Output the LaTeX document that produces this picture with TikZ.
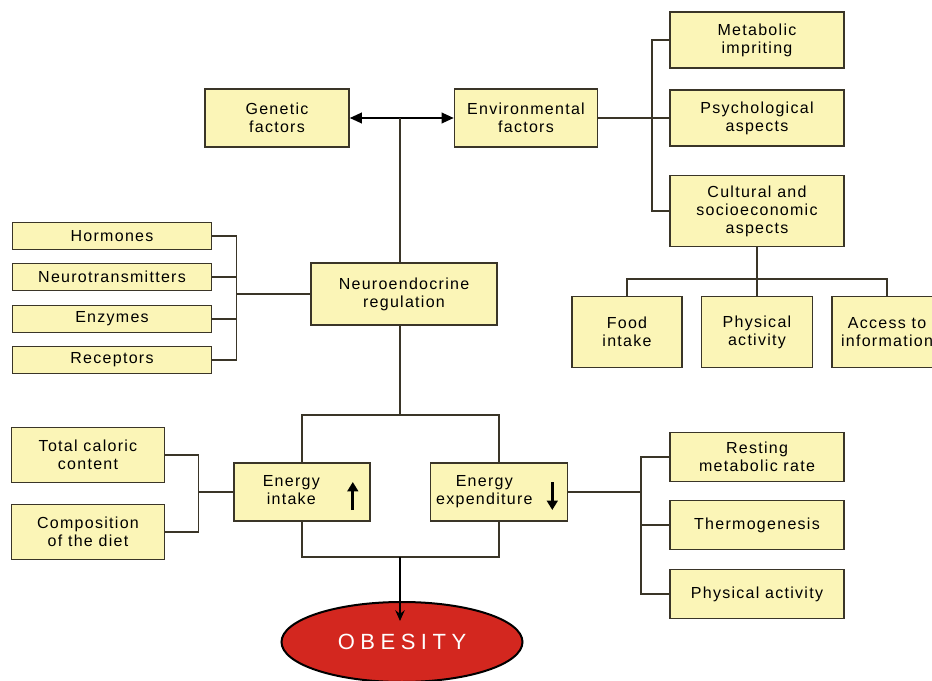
\documentclass[tikz,border=0pt]{standalone}
\usepackage{fontspec}
\setmainfont{Liberation Sans}[LetterSpace=8]
\newfontfamily\obfont{Liberation Sans}[LetterSpace=25]
\usetikzlibrary{arrows.meta,shapes.geometric}
\definecolor{caja}{HTML}{FBF5B7}
\definecolor{borde}{HTML}{3A3528}
\definecolor{rojo}{HTML}{D3271F}

\begin{document}
\begin{tikzpicture}[x=0.75pt,y=-0.75pt,line width=1.1pt,color=borde,
  b/.style={draw=borde,fill=caja,line width=1.2pt,align=center,inner sep=1pt,text=black,font=\fontsize{12}{13.5}\selectfont},
  sz/.style 2 args={minimum width=#1*0.75pt,minimum height=#2*0.75pt},
  big/.style={line width=2.2pt,color=black,-{Triangle[length=7pt,width=8pt]}}]
\clip (0,0) rectangle (932,681);
% top row
\node[b,sz={144}{58}] (gen) at (277,118) {Genetic\\factors};
\node[b,sz={143}{58}] (env) at (526,118) {Environmental\\factors};
\node[b,sz={174}{56}] (meta) at (757,40) {Metabolic\\impriting};
\node[b,sz={174}{56}] (psy) at (757,118) {Psychological\\aspects};
\node[b,sz={174}{71}] (cult) at (757,211) {Cultural and\\socioeconomic\\aspects};
\node[b,sz={110}{71}] (food) at (627,332) {Food\\intake};
\node[b,sz={111}{71}] (pact) at (757,332) {Physical\\activity};
\node[b,sz={110}{71}] (acc) at (887,332) {Access to\\information};
% neuroendocrine
\node[b,sz={186}{62}] (neuro) at (404,294) {Neuroendocrine\\regulation};
\node[b,sz={199}{27}] (horm) at (112,236) {Hormones};
\node[b,sz={199}{27}] (ntr) at (112,277) {Neurotransmitters};
\node[b,sz={199}{27}] (enz) at (112,319) {Enzymes};
\node[b,sz={199}{27}] (rec) at (112,360) {Receptors};
% energy balance
\node[b,sz={153}{55}] (tcc) at (88,455) {Total caloric\\content};
\node[b,sz={153}{55}] (comp) at (88,532) {Composition\\of the diet};
\node[b,sz={136}{58}] (ein) at (302,492) {\begin{tabular}{@{}c@{}}Energy\\intake\end{tabular}\hspace{16pt}};
\node[b,sz={137}{58}] (eex) at (499,492) {\begin{tabular}{@{}c@{}}Energy\\expenditure\end{tabular}\hspace{22pt}};
\node[b,sz={174}{49}] (rmr) at (757,457) {Resting\\metabolic rate};
\node[b,sz={174}{49}] (thg) at (757,525) {Thermogenesis};
\node[b,sz={174}{49}] (pa2) at (757,594) {Physical activity};
\node[draw=black,fill=rojo,ellipse,line width=1.5pt,sz={241}{80}] (obe) at (402,642) {\obfont\fontsize{16.5}{18}\selectfont\color{white}OBESITY};

\coordinate (hub) at (400,118);
\draw[-{Triangle[length=9pt,width=8pt]},color=black] (hub) -- (gen);
\draw[-{Triangle[length=9pt,width=8pt]},color=black] (hub) -- (env);
\draw (neuro.north -| hub) -- (hub);
\draw (env) -- (psy);
\draw (meta.west) -- ++(-17,0) |- (cult.west);
\coordinate (cb) at (757,279);
\draw (cult) -- (pact);
\draw (food) |- (cb) -| (acc);

\draw (horm.east) -- ++(24,0) coordinate (lt) |- (rec.east);
\draw (ntr.east) -- (ntr.east -| lt);
\draw (enz.east) -- (enz.east -| lt);
\draw (neuro.west) -- (neuro.west -| lt);

\coordinate (top) at (400,415);
\coordinate (bot) at (400,557);
\draw (neuro.south -| top) -- (top);
\draw (ein) |- (top) -| (eex);
\draw (ein) |- (bot) -| (eex);
\draw[-{Stealth[length=8pt,width=7pt]},color=black,line width=1.5pt] (bot) -- ([yshift=-15pt]obe.north -| bot);

\draw (tcc.east) -- ++(33,0) coordinate (lb) |- (comp.east);
\draw (ein.west) -- (ein.west -| lb);
\draw (rmr.west) -- ++(-28,0) coordinate (rt) |- (pa2.west);
\draw (thg.west) -- (thg.west -| rt);
\draw (eex.east) -- (eex.east -| rt);

\draw[big] ([shift={(-18,18)}]ein.east) -- ++(0,-28);
\draw[big] ([shift={(-16,-10)}]eex.east) -- ++(0,28);
\end{tikzpicture}
\end{document}
